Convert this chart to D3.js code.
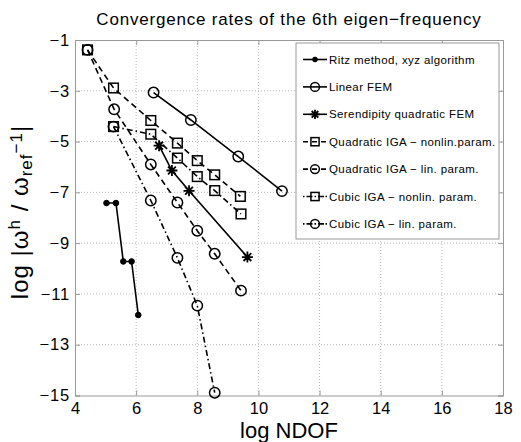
<!DOCTYPE html>
<html>
<head>
<meta charset="utf-8">
<script src="https://cdn.jsdelivr.net/npm/d3@7"></script>
<style>
  body { margin: 0; background: #fff; }
  svg { display: block; font-family: "Liberation Sans", Arial, sans-serif; }
</style>
</head>
<body>
<div id="chart"></div>
<script>
// Data (log NDOF vs log relative error)
const ritzX = [5.03, 5.34, 5.58, 5.85, 6.07];
const ritzY = [-7.42, -7.42, -9.72, -9.72, -11.83];
const linFemX = [6.57, 7.79, 9.34, 10.77];
const linFemY = [-3.07, -4.15, -5.59, -6.95];
const serendX = [6.75, 7.17, 7.73, 9.64];
const serendY = [-5.16, -6.14, -6.94, -9.55];
const quadNonlinX = [4.41, 5.26, 6.48, 7.35, 8.0, 8.57, 9.41];
const quadNonlinY = [-1.39, -2.89, -4.17, -5.06, -5.75, -6.31, -7.16];
const quadLinX = [4.41, 5.28, 6.48, 7.35, 8.0, 8.57, 9.43];
const quadLinY = [-1.39, -3.73, -5.9, -7.4, -8.51, -9.42, -10.87];
const cubicNonlinX = [5.26, 6.48, 7.35, 8.0, 8.57, 9.43];
const cubicNonlinY = [-4.41, -4.71, -5.65, -6.38, -6.93, -7.85];
const cubicLinX = [5.26, 6.48, 7.35, 8.0, 8.57];
const cubicLinY = [-4.41, -7.32, -9.58, -11.46, -14.89];

const xTicks = [4, 6, 8, 10, 12, 14, 16, 18];
const yTicks = [-1, -3, -5, -7, -9, -11, -13, -15];

const seriesNames = [
  'Ritz method, xyz algorithm',
  'Linear FEM',
  'Serendipity quadratic FEM',
  'Quadratic IGA \u2212 nonlin.param.',
  'Quadratic IGA \u2212 lin. param.',
  'Cubic IGA \u2212 nonlin. param.',
  'Cubic IGA \u2212 lin. param.'
];

const W = 521, H = 442;
const margin = { top: 40, right: 18, bottom: 46.5, left: 75 };
const width = W - margin.left - margin.right;
const height = H - margin.top - margin.bottom;

const dashed = '6,4';
const dashDot = '6,3,1.5,3';

// series styles
const series = [
  { name: seriesNames[0], xs: ritzX, ys: ritzY, dash: null, marker: 'dot' },
  { name: seriesNames[1], xs: linFemX, ys: linFemY, dash: null, marker: 'circle' },
  { name: seriesNames[2], xs: serendX, ys: serendY, dash: null, marker: 'star' },
  { name: seriesNames[3], xs: quadNonlinX, ys: quadNonlinY, dash: dashed, marker: 'square' },
  { name: seriesNames[4], xs: quadLinX, ys: quadLinY, dash: dashed, marker: 'circle' },
  { name: seriesNames[5], xs: cubicNonlinX, ys: cubicNonlinY, dash: dashDot, marker: 'square' },
  { name: seriesNames[6], xs: cubicLinX, ys: cubicLinY, dash: dashDot, marker: 'circle' }
];

const svg = d3.select('#chart')
  .append('svg')
  .attr('width', W)
  .attr('height', H);

const g = svg.append('g')
  .attr('transform', `translate(${margin.left},${margin.top})`);

const x = d3.scaleLinear().domain([4, 18]).range([0, width]);
const y = d3.scaleLinear().domain([-15, -1]).range([height, 0]);

// Grid
g.append('g')
  .selectAll('line')
  .data(xTicks.slice(1, -1))
  .join('line')
  .attr('x1', (d) => x(d)).attr('x2', (d) => x(d))
  .attr('y1', 0).attr('y2', height)
  .attr('stroke', '#b8b8b8')
  .attr('stroke-width', 1)
  .attr('stroke-dasharray', '1,2');

g.append('g')
  .selectAll('line')
  .data(yTicks.slice(1, -1))
  .join('line')
  .attr('y1', (d) => y(d)).attr('y2', (d) => y(d))
  .attr('x1', 0).attr('x2', width)
  .attr('stroke', '#b8b8b8')
  .attr('stroke-width', 1)
  .attr('stroke-dasharray', '1,2');

// Axes (ticks point inward, like MATLAB)
const xAxisCall = d3.axisBottom(x).tickValues(xTicks).tickSize(-5).tickPadding(7).tickFormat(d3.format('d'));
const yAxisCall = d3.axisLeft(y).tickValues(yTicks).tickSize(-5).tickPadding(5)
  .tickFormat((d) => String(d).replace('-', '\u2212'));

const xAxisGroup = g.append('g').attr('transform', `translate(0,${height})`).call(xAxisCall);
const yAxisGroup = g.append('g').call(yAxisCall);
g.append('g').attr('transform', 'translate(0,0)')
  .call(d3.axisTop(x).tickValues(xTicks).tickSize(-5).tickFormat(''));
g.append('g').attr('transform', `translate(${width},0)`)
  .call(d3.axisRight(y).tickValues(yTicks).tickSize(-5).tickFormat(''));

g.selectAll('.domain').attr('stroke', '#999');
g.selectAll('.tick line').attr('stroke', '#999');
[xAxisGroup, yAxisGroup].forEach((ax) =>
  ax.selectAll('.tick text')
    .attr('fill', '#000')
    .attr('font-size', 16.5)
    .attr('font-family', '"Liberation Sans", Arial, sans-serif'));
yAxisGroup.selectAll('.tick text').attr('letter-spacing', 0.8);

// Marker drawing
function drawMarker(sel, type, scale = 1) {
  if (type === 'dot') {
    sel.append('circle').attr('r', 2.8 * scale).attr('fill', '#000').attr('stroke', '#000');
  } else if (type === 'circle') {
    sel.append('circle').attr('r', 5.2 * scale).attr('fill', 'none').attr('stroke', '#000').attr('stroke-width', 1.5);
  } else if (type === 'square') {
    const s = 4.8 * scale;
    sel.append('rect').attr('x', -s).attr('y', -s).attr('width', 2 * s).attr('height', 2 * s)
      .attr('fill', 'none').attr('stroke', '#000').attr('stroke-width', 1.5);
  } else if (type === 'star') {
    const r = 5.5 * scale;
    const p = [0, 45, 90, 135].map((a) => {
      const t = (a * Math.PI) / 180;
      return `M${-r * Math.cos(t)},${-r * Math.sin(t)}L${r * Math.cos(t)},${r * Math.sin(t)}`;
    }).join('');
    sel.append('path').attr('d', p).attr('stroke', '#000').attr('stroke-width', 1.8);
  }
}

const line = d3.line().x((d) => x(d[0])).y((d) => y(d[1]));

series.forEach((s) => {
  const pts = s.xs.map((v, i) => [v, s.ys[i]]);
  g.append('path')
    .attr('d', line(pts))
    .attr('fill', 'none')
    .attr('stroke', '#000')
    .attr('stroke-width', 1.6)
    .attr('stroke-dasharray', s.dash);
  g.append('g')
    .selectAll('g')
    .data(pts)
    .join('g')
    .attr('transform', (d) => `translate(${x(d[0])},${y(d[1])})`)
    .each(function () { drawMarker(d3.select(this), s.marker); });
});

// Legend
const legend = svg.append('g').attr('transform', 'translate(296,43)');
legend.append('rect')
  .attr('width', 203).attr('height', 196)
  .attr('fill', '#fff').attr('stroke', '#999').attr('stroke-width', 1);

const legendItems = legend.selectAll('.legend-item')
  .data(series)
  .join('g')
  .attr('class', 'legend-item')
  .attr('transform', (d, i) => `translate(0,${16.5 + i * 27.4})`);

legendItems.append('line')
  .attr('x1', 7).attr('x2', 31)
  .attr('stroke', '#000').attr('stroke-width', 1.6)
  .attr('stroke-dasharray', (d) => (d.dash === dashDot ? '1.5,2,6,2,1.5,2,6' : d.dash === dashed ? '5,4' : null));

legendItems.append('g')
  .attr('transform', 'translate(19,0)')
  .each(function (d) { drawMarker(d3.select(this), d.marker, 0.85); });

legendItems.append('text')
  .attr('x', 33)
  .attr('dy', '0.35em')
  .attr('font-size', 11.5)
  .attr('letter-spacing', 0.4)
  .attr('fill', '#000')
  .text((d) => d.name);

// Title
svg.append('text')
  .attr('x', margin.left + width / 2)
  .attr('y', 25)
  .attr('text-anchor', 'middle')
  .attr('font-size', 17)
  .attr('letter-spacing', 0.8)
  .text('Convergence rates of the 6th eigen\u2212frequency');

// X label
svg.append('text')
  .attr('x', margin.left + width / 2)
  .attr('y', 438)
  .attr('text-anchor', 'middle')
  .attr('font-size', 22)
  .text('log NDOF');

// Y label
const yLabel = svg.append('text')
  .attr('transform', `translate(28,${margin.top + 172}) rotate(-90)`)
  .attr('text-anchor', 'middle')
  .attr('font-size', 24)
  .attr('letter-spacing', 1);
yLabel.append('tspan').text('log |\u03c9');
yLabel.append('tspan').attr('font-size', 17).attr('baseline-shift', '45%').text('h');
yLabel.append('tspan').text(' / \u03c9');
yLabel.append('tspan').attr('font-size', 17).attr('baseline-shift', '-25%').text('ref');
yLabel.append('tspan').attr('font-size', 17).attr('baseline-shift', '35%').text('\u22121');
yLabel.append('tspan').text('|');
</script>
</body>
</html>
